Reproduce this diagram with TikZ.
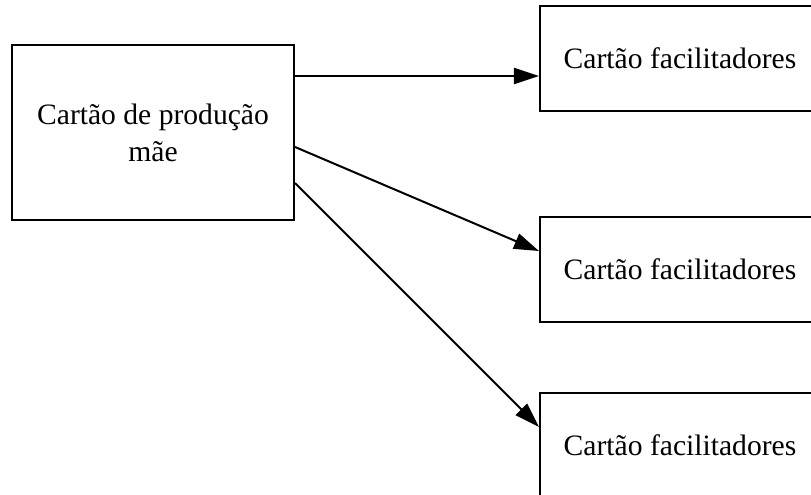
\documentclass[tikz,border=0pt]{standalone}
\usepackage{fontspec}
\setmainfont{Liberation Serif}
\usetikzlibrary{arrows.meta}
\begin{document}
\begin{tikzpicture}[x=1pt,y=-1pt,
  card/.style={draw,line width=2.1pt,inner sep=0pt,align=center,
    font=\fontsize{29.6}{37}\selectfont},
  arr/.style={line width=2pt,-{Triangle[length=25pt,width=16pt]}}]
  \useasboundingbox (0,0) rectangle (811,495);
  \clip (0,0) rectangle (811,495);
  % parent card
  \node[card,minimum width=282pt,minimum height=175pt] (mae) at (153,132.5)
    {Cartão de produção\\mãe};
  % facilitator cards
  \node[card,minimum width=280pt,minimum height=105pt] (f1) at (680,58.5)
    {Cartão facilitadores};
  \node[card,minimum width=280pt,minimum height=105pt] (f2) at (680,269.5)
    {Cartão facilitadores};
  \node[card,minimum width=280pt,minimum height=105pt] (f3) at (680,445.5)
    {Cartão facilitadores};
  % connectors
  \draw[arr] ([yshift=56.5pt]mae.east) -- ([yshift=-17.5pt]f1.west);
  \draw[arr] ([yshift=-14.5pt]mae.east) -- ([yshift=18.5pt]f2.west);
  \draw[arr] ([yshift=-50.5pt]mae.east) -- ([yshift=18.5pt]f3.west);
\end{tikzpicture}
\end{document}
